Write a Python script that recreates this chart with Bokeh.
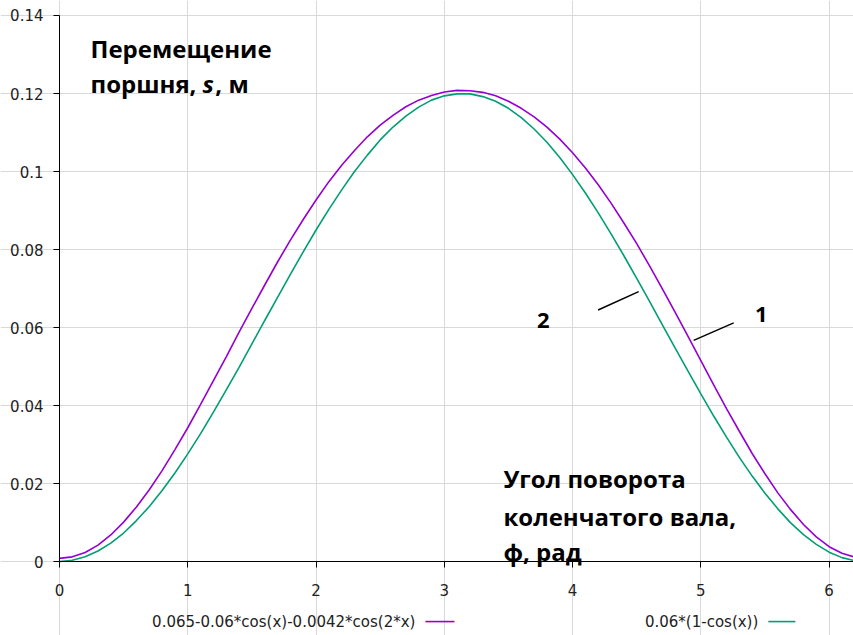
from bokeh.plotting import figure
from bokeh.models import (Range1d, FixedTicker, CustomJSTickFormatter, Label, Arrow,
                          ColumnDataSource)
from bokeh.embed import file_html
from bokeh.resources import INLINE

# ---------------- data ----------------
phi = [0.0, 0.1, 0.2, 0.3, 0.4, 0.5, 0.6, 0.7, 0.8, 0.9,
       1.0, 1.1, 1.2, 1.3, 1.4, 1.5, 1.6, 1.7, 1.8, 1.9,
       2.0, 2.1, 2.2, 2.3, 2.4, 2.5, 2.6, 2.7, 2.8, 2.9,
       3.0, 3.1, 3.2, 3.3, 3.4, 3.5, 3.6, 3.7, 3.8, 3.9,
       4.0, 4.1, 4.2, 4.3, 4.4, 4.5, 4.6, 4.7, 4.8, 4.9,
       5.0, 5.1, 5.2, 5.3, 5.4, 5.5, 5.6, 5.7, 5.8, 5.9,
       6.0, 6.1, 6.2, 6.3]

# curve 1: 0.065-0.06*cos(x)-0.0042*cos(2*x)
s_exact = [0.0008, 0.0012, 0.0023, 0.0042, 0.0068, 0.0101, 0.0140, 0.0184, 0.0233, 0.0287,
           0.0343, 0.0403, 0.0464, 0.0525, 0.0588, 0.0649, 0.0709, 0.0768, 0.0824, 0.0877,
           0.0927, 0.0974, 0.1016, 0.1054, 0.1089, 0.1119, 0.1144, 0.1166, 0.1183, 0.1195,
           0.1204, 0.1208, 0.1207, 0.1203, 0.1194, 0.1180, 0.1162, 0.1140, 0.1114, 0.1083,
           0.1048, 0.1009, 0.0966, 0.0919, 0.0868, 0.0815, 0.0758, 0.0699, 0.0639, 0.0577,
           0.0515, 0.0453, 0.0392, 0.0334, 0.0277, 0.0225, 0.0176, 0.0133, 0.0095, 0.0063,
           0.0038, 0.0021, 0.0011, 0.0008]

# curve 2: 0.06*(1-cos(x))
s_approx = [0.0000, 0.0003, 0.0012, 0.0027, 0.0047, 0.0073, 0.0105, 0.0141, 0.0182, 0.0227,
            0.0276, 0.0328, 0.0383, 0.0440, 0.0498, 0.0558, 0.0618, 0.0677, 0.0736, 0.0794,
            0.0850, 0.0903, 0.0953, 0.1000, 0.1042, 0.1081, 0.1114, 0.1142, 0.1165, 0.1183,
            0.1194, 0.1199, 0.1199, 0.1192, 0.1180, 0.1162, 0.1138, 0.1109, 0.1075, 0.1036,
            0.0992, 0.0945, 0.0894, 0.0840, 0.0784, 0.0726, 0.0667, 0.0607, 0.0547, 0.0488,
            0.0430, 0.0373, 0.0319, 0.0267, 0.0219, 0.0175, 0.0135, 0.0099, 0.0069, 0.0044,
            0.0024, 0.0010, 0.0002, 0.0000]

legend_labels = ["0.065-0.06*cos(x)-0.0042*cos(2*x)", "0.06*(1-cos(x))"]
x_ticks = [0, 1, 2, 3, 4, 5, 6]
x_tick_labels = ["0", "1", "2", "3", "4", "5", "6"]
y_ticks = [0, 0.02, 0.04, 0.06, 0.08, 0.1, 0.12, 0.14]
y_tick_labels = ["0", "0.02", "0.04", "0.06", "0.08", "0.1", "0.12", "0.14"]

# ---------------- styling ----------------
C1 = "#9400d3"
C2 = "#009e73"
TICK_FONT = "DejaVu Sans"
ANN_FONT = "Open Sans"

# The frame covers the whole canvas; both axes are drawn at x = 0 / y = 0 so that
# tick labels and the legend row below the axis are not clipped.
p = figure(width=853, height=635, output_backend="svg", toolbar_location=None,
           x_range=Range1d(-0.4599, 6.19), y_range=Range1d(-0.01897, 0.143846),
           min_border_left=0, min_border_top=0, min_border_bottom=0, min_border_right=0)
p.outline_line_color = None
p.background_fill_color = "white"
p.border_fill_color = "white"

src = ColumnDataSource(dict(phi=phi, s1=s_exact, s2=s_approx))
p.line("phi", "s1", source=src, line_color=C1, line_width=1.6)
p.line("phi", "s2", source=src, line_color=C2, line_width=1.6)

for ax, ticks, labs in ((p.xaxis[0], x_ticks, x_tick_labels), (p.yaxis[0], y_ticks, y_tick_labels)):
    ax.ticker = FixedTicker(ticks=ticks)
    ax.formatter = CustomJSTickFormatter(args=dict(labs=labs), code="return labs[index];")
    ax.axis_line_color = "black"
    ax.axis_line_width = 1
    ax.major_tick_in = 0
    ax.major_tick_out = 6
    ax.major_tick_line_color = "black"
    ax.minor_tick_line_color = None
    ax.major_label_text_font = TICK_FONT
    ax.major_label_text_font_size = "15px"
    ax.major_label_text_color = "#222222"
    ax.fixed_location = 0
p.xaxis.bounds = (0, 6.19)
p.yaxis.bounds = (0, 0.14)
p.yaxis.major_label_standoff = 10
p.xaxis.major_label_standoff = 16

p.xgrid.grid_line_color = "#d9d9d9"
p.ygrid.grid_line_color = "#d9d9d9"
p.xgrid.ticker = FixedTicker(ticks=x_ticks)
p.ygrid.ticker = FixedTicker(ticks=y_ticks)
p.xgrid.bounds = (0, 0.14)
p.ygrid.bounds = (0, 6.19)

# ---------------- annotations ----------------
def lab(x, y, t, size="24px", style="bold", align="left", baseline="alphabetic",
        font=ANN_FONT, color="black"):
    p.add_layout(Label(x=x, y=y, text=t, text_font=font, text_font_size=size,
                       text_font_style=style, text_align=align, text_baseline=baseline,
                       text_color=color))

lab(0.242, 0.1315, "Перемещение")
lab(0.242, 0.1226, "поршня,")
lab(1.115, 0.1226, "s", style="bold italic")
lab(1.215, 0.1226, ", м")

lab(3.461, 0.0213, "Угол поворота")
lab(3.461, 0.0115, "коленчатого вала,")
lab(3.461, 0.0025, "ф, рад")

lab(3.772, 0.0618, "2", size="22px", align="center", baseline="middle")
lab(5.472, 0.0633, "1", size="22px", align="center", baseline="middle")

p.segment(x0=[4.199, 4.944], y0=[0.0645, 0.0567], x1=[4.515, 5.256], y1=[0.0692, 0.0612],
          line_color="black", line_width=1.5)

# ---------------- legend (below the axis) ----------------
leg_y = -0.0154
lab(2.775, leg_y, legend_labels[0], size="15px", style="normal", align="right",
    baseline="middle", font=TICK_FONT, color="#222222")
p.add_layout(Arrow(x_start=2.853, y_start=leg_y, x_end=3.079, y_end=leg_y, end=None,
                   line_color=C1, line_width=1.6))
lab(5.448, leg_y, legend_labels[1], size="15px", style="normal", align="right",
    baseline="middle", font=TICK_FONT, color="#222222")
p.add_layout(Arrow(x_start=5.526, y_start=leg_y, x_end=5.737, y_end=leg_y, end=None,
                   line_color=C2, line_width=1.6))

open("out.html", "w").write(file_html(p, INLINE))
